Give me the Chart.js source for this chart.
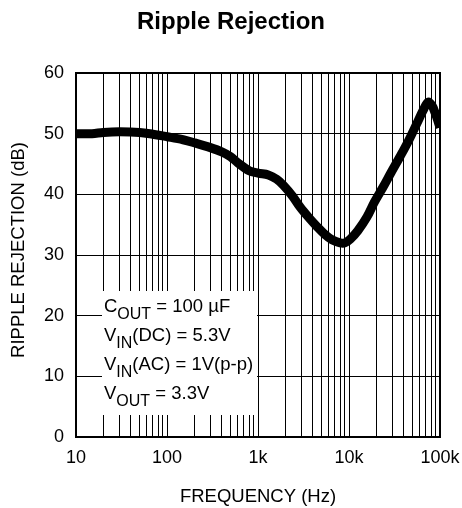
<!DOCTYPE html>
<html><head><meta charset="utf-8">
<script src="https://cdn.jsdelivr.net/npm/chart.js@4/dist/chart.umd.min.js"></script>
<style>html,body{margin:0;padding:0;background:#fff}#c{display:block}</style>
</head><body>
<canvas id="c" width="462" height="508"></canvas>
<script>
const chartTitle = 'Ripple Rejection';
const xAxisTitle = 'FREQUENCY (Hz)';
const yAxisTitle = 'RIPPLE REJECTION (dB)';
const frequencyHz = [10, 15, 20, 30, 50, 70, 100, 150, 200, 300, 400, 500, 600, 800, 1000, 1300, 1600, 1900, 2400, 2900, 3600, 4500, 5500, 6500, 8000, 9000, 10300, 12500, 15800, 19000, 23700, 29000, 36300, 45000, 55800, 65000, 74000, 82000, 88000, 94000, 100000];
const rippleRejectionDb = [50.0, 50.0, 50.2, 50.3, 50.2, 49.9, 49.5, 49.0, 48.5, 47.7, 47.0, 46.2, 45.2, 43.9, 43.5, 43.2, 42.5, 41.5, 39.7, 37.9, 36.2, 34.6, 33.3, 32.5, 32.0, 32.0, 32.6, 34.0, 36.3, 38.7, 41.2, 43.6, 46.2, 48.8, 51.7, 53.8, 55.2, 54.6, 53.5, 52.3, 51.0];
const xTickValues = [10, 100, 1000, 10000, 100000];
const xTickLabels = ['10', '100', '1k', '10k', '100k'];
const yTickValues = [0, 10, 20, 30, 40, 50, 60];
const noteLines = [
  [['C', false], ['OUT', true], [' = 100 \u00B5F', false]],
  [['V', false], ['IN', true], ['(DC) = 5.3V', false]],
  [['V', false], ['IN', true], ['(AC) = 1V(p-p)', false]],
  [['V', false], ['OUT', true], [' = 3.3V', false]]
];

const FONT = '"Liberation Sans", Arial, Helvetica, sans-serif';

// all log-grid positions (1..9 x decade)
const logGrid = [];
for (let d = 10; d < 100000; d *= 10) for (let m = 1; m < 10; m++) logGrid.push(d * m);
logGrid.push(100000);

const overlay = {
  id: 'overlay',
  beforeDatasetsDraw(chart) {
    const ctx = chart.ctx;
    ctx.save();
    // white note box over the grid
    ctx.fillStyle = '#fff';
    ctx.fillRect(102, 291, 155, 124);
    ctx.fillStyle = '#000';
    ctx.textBaseline = 'alphabetic';
    ctx.textAlign = 'left';
    const baselines = [312, 341, 370, 399];
    noteLines.forEach((line, i) => {
      let x = 104;
      line.forEach(([txt, sub]) => {
        ctx.font = (sub ? '16px ' : '18.5px ') + FONT;
        ctx.fillText(txt, x, baselines[i] + (sub ? 7 : 0));
        x += ctx.measureText(txt).width;
      });
    });
    ctx.restore();
  },
  afterDatasetsDraw(chart) {
    const {ctx, chartArea: a} = chart;
    ctx.save();
    ctx.strokeStyle = '#000';
    ctx.lineWidth = 2;
    ctx.strokeRect(a.left, a.top, a.right - a.left, a.bottom - a.top);
    ctx.restore();
  },
  afterDraw(chart) {
    const ctx = chart.ctx;
    ctx.save();
    ctx.fillStyle = '#000';
    ctx.font = '18.5px ' + FONT;
    ctx.textAlign = 'center';
    ctx.textBaseline = 'middle';
    ctx.translate(19, 250);
    ctx.rotate(-Math.PI / 2);
    ctx.fillText(yAxisTitle, 0, 0);
    ctx.restore();
  }
};

new Chart(document.getElementById('c'), {
  type: 'line',
  data: {
    datasets: [{
      data: frequencyHz.map((f, i) => ({x: f, y: rippleRejectionDb[i]})),
      borderColor: '#000',
      borderWidth: 9,
      pointRadius: 0,
      tension: 0.35,
      fill: false
    }]
  },
  options: {
    responsive: false,
    devicePixelRatio: 1,
    animation: false,
    events: [],
    layout: {padding: 0},
    plugins: {
      legend: {display: false},
      tooltip: {enabled: false},
      title: {
        display: true,
        text: chartTitle,
        color: '#000',
        font: {family: FONT, size: 24, weight: 'bold', lineHeight: 1.2},
        padding: {top: 8, bottom: 36.2}
      }
    },
    scales: {
      x: {
        type: 'logarithmic',
        min: 10, max: 100000,
        afterBuildTicks(scale) { scale.ticks = logGrid.map(v => ({value: v})); },
        afterFit(scale) { scale.height = 71; scale.paddingRight = 22; scale.paddingLeft = 0; },
        ticks: {
          autoSkip: false, maxRotation: 0, minRotation: 0, padding: 10,
          color: '#000',
          font: {family: FONT, size: 18},
          callback(v) { const k = xTickValues.indexOf(v); return k >= 0 ? xTickLabels[k] : ''; }
        },
        grid: {color: '#000', lineWidth: 1, drawTicks: false},
        border: {display: true, color: '#000', width: 2},
        title: {display: true, text: xAxisTitle, color: '#000', font: {family: FONT, size: 18.5}, padding: {top: 0, bottom: 0}}
      },
      y: {
        min: 0, max: 60,
        afterBuildTicks(scale) { scale.ticks = yTickValues.map(v => ({value: v})); },
        afterFit(scale) { scale.width = 76; },
        ticks: {color: '#000', padding: 12, font: {family: FONT, size: 18}},
        grid: {color: '#000', lineWidth: 1, drawTicks: false},
        border: {display: true, color: '#000', width: 2}
      }
    }
  },
  plugins: [overlay]
});
</script>
</body></html>
